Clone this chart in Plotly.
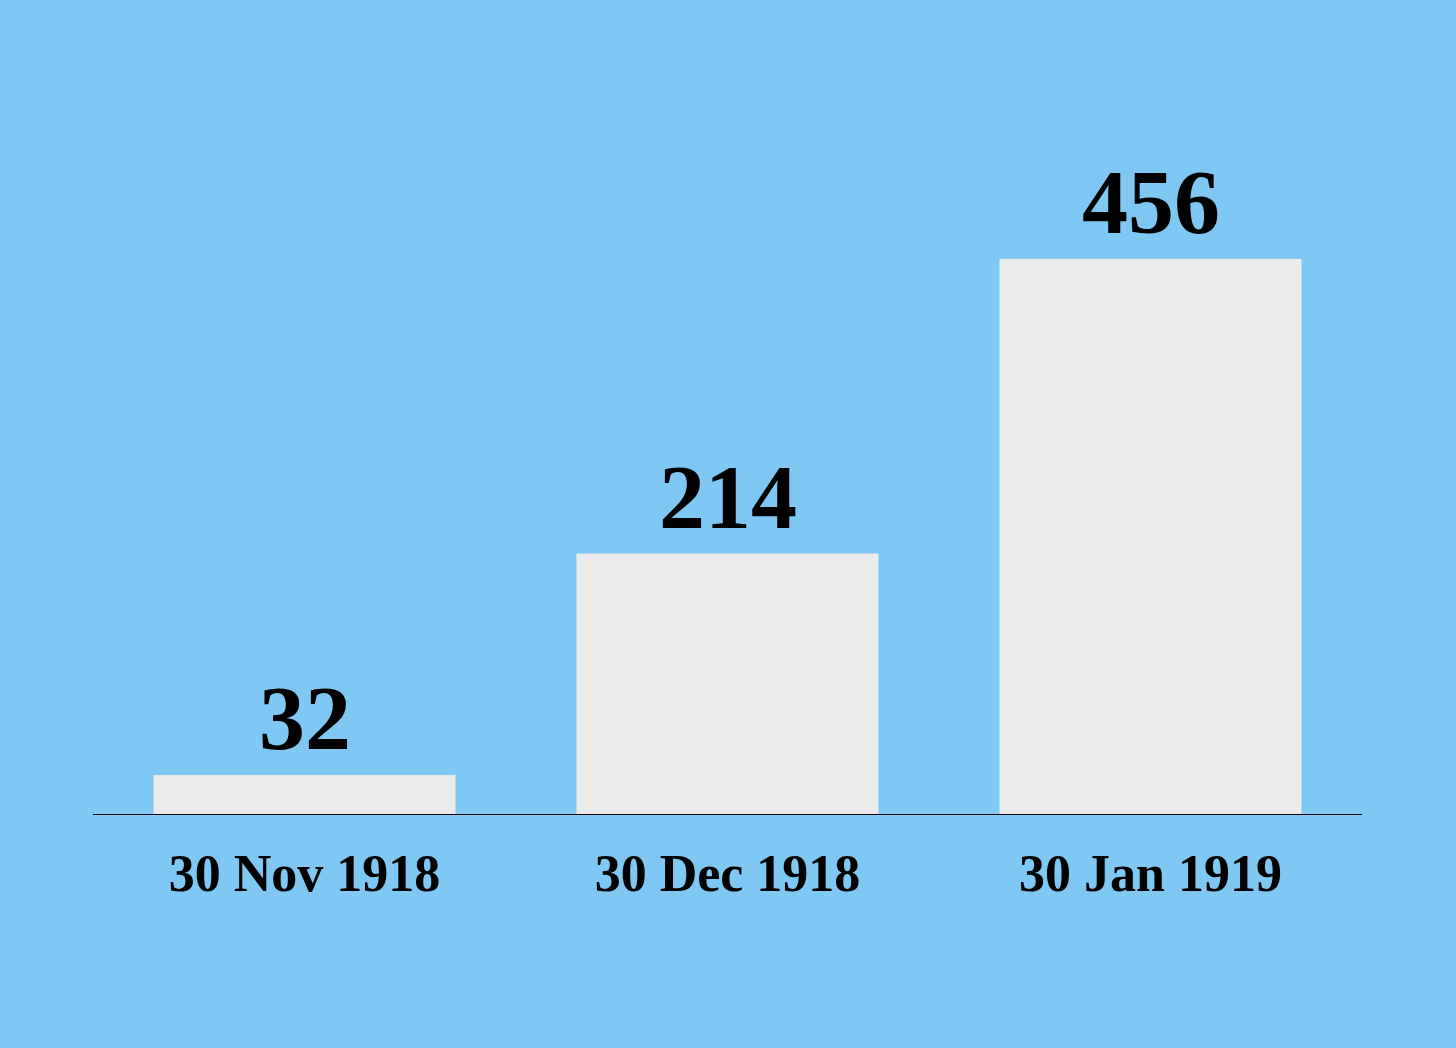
import plotly.graph_objects as go

categories = ["30 Nov 1918", "30 Dec 1918", "30 Jan 1919"]
values = [32, 214, 456]
value_labels = ["32", "214", "456"]

FONT = "Liberation Serif"
BG = "#7FC8F4"

fig = go.Figure()
fig.add_trace(go.Bar(
    x=categories, y=values,
    marker=dict(color="#EBEBEB", line=dict(width=0)),
    hoverinfo="skip",
))

for c, v, t in zip(categories, values, value_labels):
    fig.add_annotation(
        x=c, y=v, text=f"<b>{t}</b>", showarrow=False,
        yanchor="bottom", yshift=4,
        font=dict(family=FONT, size=92, color="#000000"),
    )

fig.update_layout(
    width=1456, height=1048,
    paper_bgcolor=BG, plot_bgcolor=BG,
    margin=dict(l=93, r=94, t=181, b=234),
    bargap=0.286,
    showlegend=False,
    xaxis=dict(
        showgrid=False, zeroline=False,
        showline=True, linecolor="#000000", linewidth=1,
        ticks="", ticklabelstandoff=14,
        tickfont=dict(family=FONT, size=52, color="#000000"),
        tickvals=categories, ticktext=[f"<b>{c}</b>" for c in categories],
    ),
    yaxis=dict(
        range=[0, 520], visible=False, showgrid=False, zeroline=False,
    ),
)

fig.write_html(
    "out.html",
    config={"displayModeBar": False},
    post_script="document.body.style.margin='0';document.body.style.background='" + BG + "';",
)
